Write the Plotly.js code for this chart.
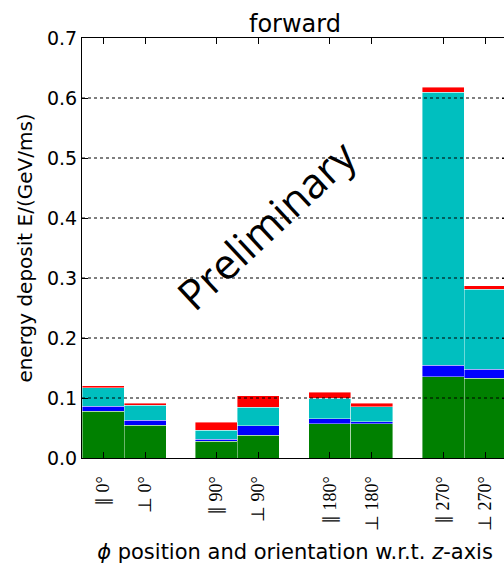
<!DOCTYPE html>
<html>
<head>
<meta charset="utf-8">
<script src="https://cdn.plot.ly/plotly-3.0.1.min.js"></script>
<style>
html, body { margin: 0; padding: 0; overflow: hidden; background: #fff; }
#chart { width: 512px; height: 568px; }
</style>
</head>
<body>
<div id="chart"></div>
<script>
// Categories (tick labels)
const categories = ["∥ 0°", "⊥ 0°", "∥ 90°", "⊥ 90°", "∥ 180°", "⊥ 180°", "∥ 270°", "⊥ 270°"];
// Stacked components (GeV/ms)
const greenVals = [0.078, 0.0545, 0.028, 0.038, 0.057, 0.057, 0.1355, 0.133];
const blueVals  = [0.0085, 0.0085, 0.0035, 0.016, 0.0085, 0.0036, 0.019, 0.015];
const cyanVals  = [0.031, 0.025, 0.015, 0.031, 0.034, 0.025, 0.455, 0.133];
const redVals   = [0.003, 0.003, 0.013, 0.019, 0.010, 0.0055, 0.0085, 0.0065];
const yTicks = [0, 0.1, 0.2, 0.3, 0.4, 0.5, 0.6, 0.7];

// layout: pairs of adjacent bars, groups separated by a gap
const xs = categories.map((c, i) => i + 0.7 * Math.floor(i / 2));

function trace(vals, color) {
  return {
    type: "bar", x: xs, y: vals, width: 1,
    marker: { color: color, line: { color: "rgba(255,255,255,0.7)", width: 0.6 } },
    hoverinfo: "y", showlegend: false
  };
}

const data = [
  trace(greenVals, "#008000"),
  trace(blueVals, "#0000ff"),
  trace(cyanVals, "#00bfbf"),
  trace(redVals, "#ff0000")
];

const grid = yTicks.slice(1, -1).map(v => ({
  type: "line", xref: "paper", x0: 0, x1: 1, yref: "y", y0: v, y1: v,
  line: { color: "#000", width: 1.2, dash: "3px,3px" }, layer: "above"
}));

const layout = {
  width: 512, height: 568,
  margin: { l: 82, r: 4, t: 38, b: 110 },
  paper_bgcolor: "#fff", plot_bgcolor: "#fff",
  barmode: "stack", bargap: 0,
  font: { family: "DejaVu Sans", color: "#000" },
  title: { text: "forward", font: { family: "DejaVu Sans", size: 24, color: "#000" },
           x: 0.5, xref: "paper", y: 1, yref: "paper", yanchor: "bottom", pad: { b: 6 } },
  xaxis: {
    range: [-0.5, 9.64], tickmode: "array", tickvals: xs, ticktext: categories,
    tickangle: -90, ticks: "inside", ticklen: 6, tickcolor: "#000",
    showline: true, linecolor: "#000", linewidth: 1, mirror: "allticks",
    showgrid: false, zeroline: false, ticklabelstandoff: 10,
    tickfont: { family: "Liberation Serif", size: 18, color: "#000" },
    title: { text: "<i>ϕ</i> position and orientation w.r.t. <i>z</i>-axis",
             font: { family: "DejaVu Sans", size: 21, color: "#000" }, standoff: 14 }
  },
  yaxis: {
    range: [0, 0.7], tickmode: "array", tickvals: yTicks, tickformat: ".1f",
    ticks: "inside", ticklen: 6, tickcolor: "#000",
    showline: true, linecolor: "#000", linewidth: 1, mirror: "allticks",
    showgrid: false, zeroline: false,
    tickfont: { family: "DejaVu Sans", size: 19, color: "#000" },
    title: { text: "energy deposit E/(GeV/ms)", font: { family: "DejaVu Sans", size: 20, color: "#000" }, standoff: 8 }
  },
  shapes: grid,
  annotations: [{
    text: "Preliminary", xref: "paper", yref: "paper", x: 0.43, y: 0.557,
    showarrow: false, textangle: -43, font: { family: "Open Sans", size: 42, color: "#000" }
  }]
};

Plotly.newPlot("chart", data, layout, { displayModeBar: false, staticPlot: true });
</script>
</body>
</html>
